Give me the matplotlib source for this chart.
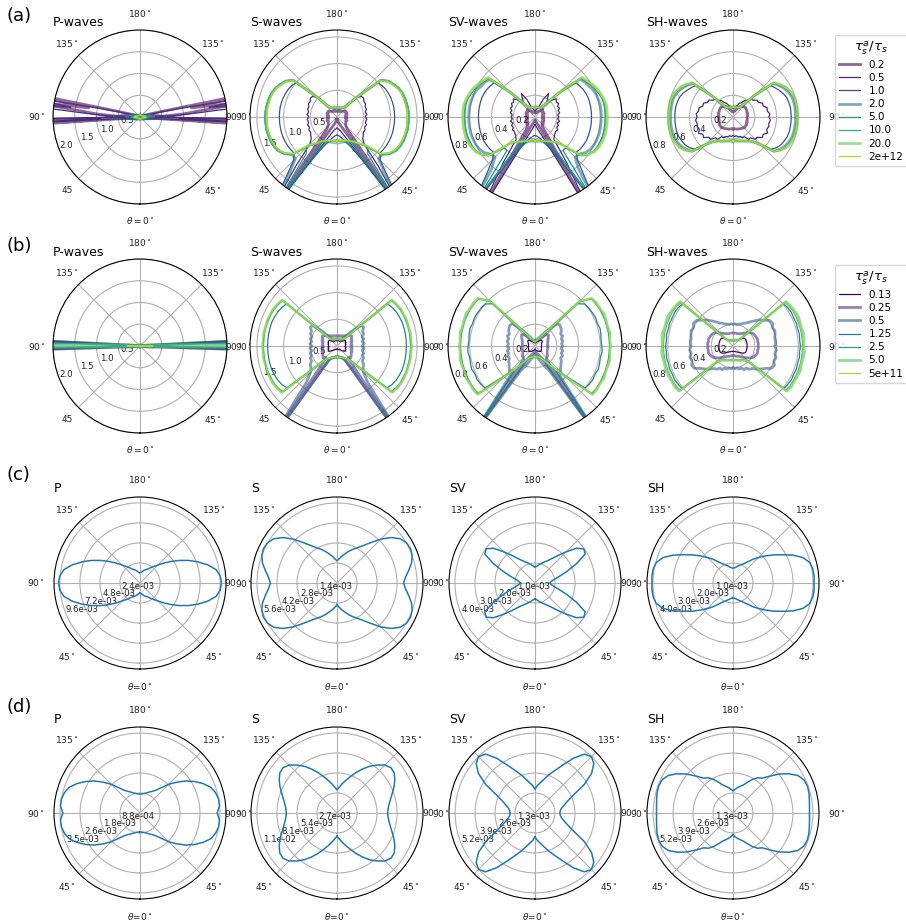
import numpy as np
import matplotlib.pyplot as plt

plt.rcParams['font.family'] = ['DejaVu Sans']
plt.rcParams['mathtext.fontset'] = 'dejavusans'

# sampling angles in degrees, measured from theta=0 (bottom) over the right half
th5 = list(range(0, 181, 5))
th_p = [0, 30, 60, 75, 80, 84, 86, 87, 88, 89, 90, 91, 92, 93, 94, 96, 98,
        100, 102, 104, 110, 130, 160, 180]
th_q = list(range(0, 91, 5))

ratios_a = ['0.2', '0.5', '1.0', '2.0', '5.0', '10.0', '20.0', '2e+12']
ratios_b = ['0.13', '0.25', '0.5', '1.25', '2.5', '5.0', '5e+11']
thick_a = [0, 3, 6]
thick_b = [1, 2, 5]

# ---------------- row (a) ----------------
a_P = [
    [0.03, 0.03, 0.04, 0.06, 0.10, 0.25, 3.0, 0.6, 3.0, 0.4, 0.25, 0.3, 0.5, 0.7, 1.0, 1.4, 3.0, 1.2, 3.0, 0.6, 0.15, 0.05, 0.03, 0.03],
    [0.02, 0.03, 0.04, 0.06, 0.12, 0.3, 0.8, 3.0, 0.9, 3.0, 0.35, 0.4, 0.7, 1.0, 1.3, 3.0, 1.6, 3.0, 1.0, 0.4, 0.12, 0.05, 0.03, 0.03],
    [0.06, 0.07, 0.12, 0.22, 0.3, 0.42, 0.5, 0.54, 0.58, 0.61, 0.62, 0.61, 0.58, 0.54, 0.5, 0.42, 0.35, 0.3, 0.26, 0.24, 0.17, 0.08, 0.065, 0.06],
    [0.04, 0.045, 0.07, 0.12, 0.16, 0.21, 0.24, 0.26, 0.28, 0.29, 0.3, 0.29, 0.28, 0.26, 0.24, 0.21, 0.18, 0.16, 0.14, 0.13, 0.095, 0.05, 0.042, 0.04],
    [0.04, 0.045, 0.065, 0.1, 0.12, 0.155, 0.17, 0.18, 0.19, 0.197, 0.2, 0.197, 0.19, 0.18, 0.17, 0.155, 0.135, 0.12, 0.11, 0.1, 0.08, 0.05, 0.042, 0.04],
    [0.04, 0.044, 0.06, 0.09, 0.105, 0.13, 0.14, 0.148, 0.153, 0.158, 0.16, 0.158, 0.153, 0.148, 0.14, 0.13, 0.115, 0.105, 0.095, 0.09, 0.07, 0.048, 0.042, 0.04],
    [0.04, 0.043, 0.058, 0.085, 0.1, 0.12, 0.128, 0.133, 0.137, 0.14, 0.142, 0.14, 0.137, 0.133, 0.128, 0.12, 0.108, 0.1, 0.092, 0.085, 0.068, 0.047, 0.041, 0.04],
    [0.04, 0.042, 0.055, 0.08, 0.092, 0.108, 0.114, 0.117, 0.12, 0.122, 0.123, 0.122, 0.12, 0.117, 0.114, 0.108, 0.098, 0.092, 0.085, 0.08, 0.065, 0.046, 0.041, 0.04],
]

a_S = [
    [0.04, 0.05, 0.07, 0.10, 0.14, 0.20, 0.35, 2.20, 0.30, 0.24,
     0.21, 0.20, 0.19, 0.18, 0.20, 0.17, 0.19, 0.16, 0.18, 0.16,
     0.19, 0.17, 0.20, 0.18, 0.20, 0.19, 0.17, 0.15, 0.14, 0.13,
     0.14, 0.12, 0.13, 0.11, 0.12, 0.11, 0.11],
    [0.21, 0.22, 0.24, 0.28, 0.35, 0.48, 0.80, 2.20, 1.20, 0.72,
     0.63, 0.60, 0.57, 0.58, 0.55, 0.57, 0.54, 0.56, 0.53, 0.56,
     0.54, 0.57, 0.56, 0.59, 0.58, 0.61, 0.60, 0.52, 0.30, 0.22,
     0.20, 0.19, 0.19, 0.18, 0.18, 0.175, 0.175],
    [0.34, 0.35, 0.38, 0.43, 0.50, 0.62, 0.90, 2.20, 1.50, 1.15,
     1.05, 1.06, 1.07, 1.075, 1.08, 1.08, 1.08, 1.08, 1.08, 1.08,
     1.08, 1.075, 1.07, 1.06, 1.05, 1.03, 1.00, 0.52, 0.28, 0.22,
     0.20, 0.19, 0.186, 0.18, 0.178, 0.176, 0.175],
    [0.45, 0.45, 0.46, 0.47, 0.50, 0.56, 0.75, 2.20, 1.40, 1.10,
     1.10, 1.20, 1.26, 1.29, 1.31, 1.32, 1.33, 1.33, 1.33, 1.33,
     1.32, 1.31, 1.30, 1.27, 1.22, 1.17, 1.07, 0.52, 0.28, 0.22,
     0.20, 0.19, 0.186, 0.18, 0.178, 0.176, 0.175],
    [0.45, 0.45, 0.455, 0.46, 0.47, 0.50, 0.56, 1.90, 0.90, 0.80,
     1.09, 1.20, 1.27, 1.31, 1.33, 1.34, 1.35, 1.35, 1.35, 1.35,
     1.34, 1.33, 1.31, 1.28, 1.23, 1.18, 1.08, 0.53, 0.29, 0.22,
     0.20, 0.19, 0.186, 0.18, 0.178, 0.176, 0.175],
    [0.45, 0.45, 0.455, 0.46, 0.47, 0.49, 0.52, 0.57, 0.66, 0.78,
     1.09, 1.21, 1.28, 1.31, 1.33, 1.34, 1.35, 1.35, 1.35, 1.35,
     1.34, 1.33, 1.31, 1.28, 1.23, 1.18, 1.08, 0.54, 0.29, 0.22,
     0.20, 0.19, 0.186, 0.18, 0.178, 0.176, 0.175],
    [0.45, 0.45, 0.455, 0.46, 0.47, 0.49, 0.52, 0.57, 0.65, 0.75,
     1.08, 1.19, 1.26, 1.29, 1.31, 1.32, 1.33, 1.33, 1.33, 1.33,
     1.32, 1.31, 1.30, 1.27, 1.22, 1.17, 1.07, 0.53, 0.28, 0.22,
     0.20, 0.19, 0.186, 0.18, 0.178, 0.176, 0.175],
    [0.45, 0.45, 0.455, 0.46, 0.47, 0.49, 0.52, 0.57, 0.65, 0.74,
     1.07, 1.18, 1.25, 1.28, 1.30, 1.31, 1.32, 1.32, 1.32, 1.32,
     1.31, 1.30, 1.29, 1.26, 1.21, 1.16, 1.06, 0.52, 0.28, 0.22,
     0.20, 0.19, 0.186, 0.18, 0.178, 0.176, 0.175],
]

a_SV = [
    [0.03, 0.035, 0.04, 0.05, 0.07, 0.12, 1.00, 0.15, 0.10, 0.09,
     0.10, 0.08, 0.09, 0.08, 0.09, 0.07, 0.08, 0.07, 0.08, 0.07,
     0.08, 0.07, 0.09, 0.08, 0.09, 0.08, 0.09, 0.10, 0.08, 0.07,
     0.06, 0.05, 0.05, 0.04, 0.04, 0.04, 0.04],
    [0.07, 0.08, 0.10, 0.13, 0.18, 0.30, 1.00, 0.50, 0.27, 0.25,
     0.24, 0.23, 0.24, 0.22, 0.23, 0.21, 0.23, 0.21, 0.22, 0.21,
     0.23, 0.22, 0.24, 0.23, 0.25, 0.24, 0.26, 0.22, 0.16, 0.20,
     0.25, 0.18, 0.10, 0.08, 0.07, 0.06, 0.06],
    [0.17, 0.175, 0.19, 0.21, 0.25, 0.31, 0.45, 1.00, 0.70, 0.55,
     0.50, 0.51, 0.515, 0.52, 0.52, 0.52, 0.52, 0.52, 0.52, 0.52,
     0.52, 0.52, 0.52, 0.515, 0.51, 0.50, 0.49, 0.32, 0.17, 0.115,
     0.10, 0.097, 0.095, 0.093, 0.091, 0.09, 0.09],
    [0.22, 0.22, 0.225, 0.23, 0.25, 0.28, 0.36, 1.00, 0.62, 0.52,
     0.53, 0.57, 0.59, 0.60, 0.605, 0.61, 0.61, 0.61, 0.61, 0.61,
     0.61, 0.605, 0.60, 0.59, 0.57, 0.56, 0.54, 0.32, 0.17, 0.115,
     0.10, 0.097, 0.095, 0.093, 0.091, 0.09, 0.09],
    [0.22, 0.22, 0.223, 0.228, 0.235, 0.25, 0.28, 0.90, 0.40, 0.40,
     0.55, 0.60, 0.625, 0.635, 0.64, 0.645, 0.645, 0.645, 0.645, 0.645,
     0.645, 0.64, 0.625, 0.61, 0.59, 0.57, 0.55, 0.32, 0.17, 0.115,
     0.10, 0.097, 0.095, 0.093, 0.091, 0.09, 0.09],
    [0.22, 0.22, 0.223, 0.228, 0.235, 0.245, 0.26, 0.28, 0.30, 0.37,
     0.55, 0.60, 0.63, 0.64, 0.65, 0.65, 0.65, 0.65, 0.65, 0.65,
     0.65, 0.645, 0.63, 0.615, 0.595, 0.575, 0.555, 0.32, 0.17, 0.115,
     0.10, 0.097, 0.095, 0.093, 0.091, 0.09, 0.09],
    [0.22, 0.22, 0.223, 0.228, 0.235, 0.245, 0.26, 0.28, 0.30, 0.37,
     0.55, 0.60, 0.635, 0.65, 0.66, 0.665, 0.665, 0.665, 0.665, 0.665,
     0.665, 0.655, 0.64, 0.625, 0.605, 0.585, 0.565, 0.32, 0.17, 0.115,
     0.10, 0.097, 0.095, 0.093, 0.091, 0.09, 0.09],
    [0.22, 0.22, 0.223, 0.228, 0.235, 0.245, 0.26, 0.28, 0.30, 0.37,
     0.55, 0.60, 0.63, 0.645, 0.655, 0.66, 0.66, 0.66, 0.66, 0.66,
     0.66, 0.65, 0.635, 0.62, 0.60, 0.58, 0.56, 0.32, 0.17, 0.115,
     0.10, 0.097, 0.095, 0.093, 0.091, 0.09, 0.09],
]

a_SH = [
    [0.11, 0.11, 0.11, 0.115, 0.12, 0.12, 0.125, 0.13, 0.135, 0.14,
     0.145, 0.14, 0.145, 0.135, 0.14, 0.13, 0.135, 0.13, 0.13, 0.135,
     0.13, 0.14, 0.135, 0.14, 0.14, 0.145, 0.14, 0.135, 0.13, 0.12,
     0.10, 0.08, 0.065, 0.055, 0.05, 0.048, 0.046],
    [0.17, 0.18, 0.175, 0.19, 0.19, 0.21, 0.21, 0.25, 0.25, 0.29,
     0.29, 0.33, 0.32, 0.35, 0.33, 0.34, 0.335, 0.345, 0.33, 0.34,
     0.32, 0.325, 0.295, 0.30, 0.27, 0.27, 0.24, 0.235, 0.195, 0.185,
     0.15, 0.14, 0.11, 0.105, 0.085, 0.09, 0.08],
    [0.22, 0.22, 0.223, 0.228, 0.235, 0.245, 0.255, 0.27, 0.30, 0.36,
     0.46, 0.49, 0.51, 0.52, 0.53, 0.535, 0.535, 0.535, 0.535, 0.535,
     0.535, 0.53, 0.525, 0.51, 0.49, 0.47, 0.45, 0.28, 0.15, 0.11,
     0.10, 0.097, 0.095, 0.093, 0.092, 0.092, 0.092],
    [0.22, 0.22, 0.223, 0.228, 0.235, 0.245, 0.255, 0.27, 0.30, 0.36,
     0.49, 0.52, 0.545, 0.56, 0.57, 0.575, 0.575, 0.575, 0.575, 0.575,
     0.575, 0.575, 0.57, 0.555, 0.535, 0.51, 0.48, 0.28, 0.15, 0.11,
     0.10, 0.097, 0.095, 0.093, 0.092, 0.092, 0.092],
    [0.22, 0.22, 0.223, 0.228, 0.235, 0.245, 0.255, 0.27, 0.30, 0.36,
     0.49, 0.53, 0.555, 0.57, 0.58, 0.585, 0.585, 0.585, 0.585, 0.585,
     0.585, 0.585, 0.58, 0.565, 0.545, 0.515, 0.485, 0.28, 0.15, 0.11,
     0.10, 0.097, 0.095, 0.093, 0.092, 0.092, 0.092],
    [0.22, 0.22, 0.223, 0.228, 0.235, 0.245, 0.255, 0.27, 0.30, 0.36,
     0.49, 0.53, 0.56, 0.575, 0.585, 0.59, 0.59, 0.59, 0.59, 0.59,
     0.59, 0.59, 0.585, 0.57, 0.55, 0.52, 0.49, 0.28, 0.15, 0.11,
     0.10, 0.097, 0.095, 0.093, 0.092, 0.092, 0.092],
    [0.22, 0.22, 0.223, 0.228, 0.235, 0.245, 0.255, 0.27, 0.30, 0.36,
     0.49, 0.535, 0.565, 0.58, 0.59, 0.595, 0.595, 0.595, 0.595, 0.595,
     0.595, 0.595, 0.59, 0.575, 0.555, 0.525, 0.49, 0.28, 0.15, 0.11,
     0.10, 0.097, 0.095, 0.093, 0.092, 0.092, 0.092],
    [0.22, 0.22, 0.223, 0.228, 0.235, 0.245, 0.255, 0.27, 0.30, 0.36,
     0.49, 0.53, 0.56, 0.575, 0.585, 0.59, 0.59, 0.59, 0.59, 0.59,
     0.59, 0.59, 0.585, 0.57, 0.55, 0.52, 0.49, 0.28, 0.15, 0.11,
     0.10, 0.097, 0.095, 0.093, 0.092, 0.092, 0.092],
]

# ---------------- row (b) ----------------
b_P = [
    [0.02, 0.02, 0.03, 0.05, 0.09, 0.2, 0.4, 0.5, 3.0, 3.0, 3.0, 3.0, 3.0, 3.0, 0.5, 0.2, 0.12, 0.09, 0.07, 0.06, 0.04, 0.03, 0.02, 0.02],
    [0.02, 0.02, 0.03, 0.05, 0.08, 0.18, 0.35, 0.4, 2.5, 3.0, 3.0, 3.0, 3.0, 2.5, 0.4, 0.18, 0.11, 0.08, 0.06, 0.05, 0.04, 0.03, 0.02, 0.02],
    [0.02, 0.02, 0.03, 0.05, 0.08, 0.16, 0.3, 0.35, 1.8, 3.0, 3.0, 3.0, 3.0, 1.8, 0.35, 0.16, 0.1, 0.08, 0.06, 0.05, 0.04, 0.03, 0.02, 0.02],
    [0.02, 0.02, 0.03, 0.04, 0.07, 0.14, 0.25, 0.3, 1.0, 3.0, 3.0, 3.0, 2.5, 1.0, 0.3, 0.14, 0.09, 0.07, 0.05, 0.045, 0.035, 0.025, 0.02, 0.02],
    [0.02, 0.02, 0.03, 0.04, 0.06, 0.1, 0.18, 0.25, 0.6, 2.5, 3.0, 2.5, 1.5, 0.6, 0.25, 0.1, 0.07, 0.06, 0.05, 0.04, 0.03, 0.025, 0.02, 0.02],
    [0.02, 0.02, 0.025, 0.035, 0.05, 0.08, 0.13, 0.18, 0.4, 1.5, 2.5, 1.5, 0.8, 0.4, 0.18, 0.08, 0.06, 0.05, 0.04, 0.035, 0.03, 0.022, 0.02, 0.02],
    [0.01, 0.01, 0.015, 0.025, 0.035, 0.06, 0.09, 0.12, 0.15, 0.25, 0.3, 0.25, 0.15, 0.1, 0.08, 0.06, 0.045, 0.035, 0.03, 0.025, 0.02, 0.015, 0.01, 0.01],
]

b_S = [
    [0.06, 0.06, 0.065, 0.065, 0.07, 0.075, 0.08, 0.09, 0.10, 0.12,
     0.14, 0.17, 0.19, 0.17, 0.18, 0.16, 0.17, 0.15, 0.165, 0.155,
     0.17, 0.16, 0.18, 0.17, 0.19, 0.18, 0.15, 0.13, 0.12, 0.11,
     0.10, 0.10, 0.10, 0.10, 0.10, 0.10, 0.10],
    [0.21, 0.21, 0.215, 0.22, 0.23, 0.24, 0.30, 2.20, 0.40, 0.30,
     0.34, 0.32, 0.31, 0.29, 0.30, 0.27, 0.29, 0.26, 0.28, 0.26,
     0.28, 0.27, 0.30, 0.29, 0.32, 0.33, 0.30, 0.27, 0.25, 0.23,
     0.22, 0.21, 0.20, 0.20, 0.195, 0.19, 0.19],
    [0.20, 0.20, 0.21, 0.22, 0.24, 0.26, 0.30, 2.20, 0.90, 0.70,
     0.64, 0.61, 0.55, 0.55, 0.51, 0.52, 0.48, 0.51, 0.47, 0.51,
     0.48, 0.52, 0.50, 0.55, 0.55, 0.61, 0.60, 0.40, 0.22, 0.17,
     0.15, 0.145, 0.14, 0.135, 0.133, 0.13, 0.13],
    [0.21, 0.21, 0.215, 0.22, 0.23, 0.24, 0.26, 0.29, 0.33, 0.53,
     1.22, 1.26, 1.28, 1.29, 1.30, 1.30, 1.30, 1.30, 1.30, 1.30,
     1.30, 1.30, 1.30, 1.29, 1.28, 1.26, 1.23, 0.20, 0.17, 0.16,
     0.15, 0.145, 0.14, 0.135, 0.133, 0.13, 0.13],
    [0.21, 0.21, 0.215, 0.22, 0.23, 0.24, 0.26, 0.29, 0.32, 0.52,
     1.33, 1.36, 1.37, 1.375, 1.38, 1.38, 1.38, 1.38, 1.38, 1.38,
     1.38, 1.38, 1.375, 1.375, 1.37, 1.35, 1.33, 0.20, 0.17, 0.16,
     0.15, 0.145, 0.14, 0.135, 0.133, 0.13, 0.13],
    [0.21, 0.21, 0.215, 0.22, 0.23, 0.24, 0.26, 0.29, 0.32, 0.52,
     1.35, 1.375, 1.39, 1.385, 1.395, 1.385, 1.395, 1.39, 1.395, 1.385,
     1.395, 1.385, 1.39, 1.38, 1.38, 1.36, 1.34, 0.20, 0.17, 0.16,
     0.15, 0.145, 0.14, 0.135, 0.133, 0.13, 0.13],
    [0.21, 0.21, 0.215, 0.22, 0.23, 0.24, 0.26, 0.29, 0.32, 0.52,
     1.35, 1.37, 1.38, 1.39, 1.385, 1.39, 1.395, 1.39, 1.39, 1.395,
     1.39, 1.385, 1.39, 1.385, 1.38, 1.36, 1.34, 0.20, 0.17, 0.16,
     0.15, 0.145, 0.14, 0.135, 0.133, 0.13, 0.13],
]

b_SV = [
    [0.03, 0.03, 0.035, 0.04, 0.045, 0.05, 0.055, 0.06, 0.065, 0.07,
     0.075, 0.07, 0.068, 0.065, 0.063, 0.062, 0.06, 0.06, 0.06, 0.06,
     0.06, 0.062, 0.065, 0.07, 0.075, 0.08, 0.08, 0.075, 0.065, 0.055,
     0.045, 0.04, 0.035, 0.03, 0.03, 0.03, 0.03],
    [0.05, 0.055, 0.06, 0.07, 0.08, 0.10, 0.13, 1.00, 0.16, 0.15,
     0.15, 0.14, 0.13, 0.125, 0.12, 0.12, 0.12, 0.115, 0.12, 0.115,
     0.12, 0.12, 0.125, 0.13, 0.14, 0.15, 0.16, 0.15, 0.12, 0.09,
     0.07, 0.06, 0.055, 0.05, 0.05, 0.05, 0.05],
    [0.08, 0.09, 0.10, 0.12, 0.15, 0.20, 0.26, 1.00, 0.35, 0.33,
     0.31, 0.29, 0.28, 0.26, 0.27, 0.25, 0.26, 0.24, 0.255, 0.245,
     0.26, 0.25, 0.27, 0.26, 0.28, 0.29, 0.30, 0.29, 0.20, 0.14,
     0.10, 0.08, 0.065, 0.055, 0.05, 0.045, 0.045],
    [0.10, 0.10, 0.102, 0.105, 0.11, 0.12, 0.14, 1.00, 0.30, 0.38,
     0.60, 0.61, 0.615, 0.61, 0.62, 0.615, 0.61, 0.62, 0.615, 0.61,
     0.615, 0.62, 0.61, 0.615, 0.61, 0.605, 0.60, 0.55, 0.21, 0.13,
     0.09, 0.075, 0.06, 0.05, 0.045, 0.042, 0.04],
    [0.10, 0.10, 0.102, 0.105, 0.11, 0.12, 0.14, 0.18, 0.26, 0.40,
     0.68, 0.685, 0.685, 0.685, 0.685, 0.685, 0.685, 0.685, 0.685, 0.685,
     0.685, 0.685, 0.685, 0.685, 0.685, 0.68, 0.675, 0.58, 0.21, 0.13,
     0.09, 0.075, 0.06, 0.05, 0.045, 0.042, 0.04],
    [0.10, 0.10, 0.102, 0.105, 0.11, 0.12, 0.14, 0.18, 0.26, 0.40,
     0.69, 0.695, 0.69, 0.70, 0.69, 0.695, 0.70, 0.69, 0.695, 0.69,
     0.70, 0.69, 0.695, 0.70, 0.69, 0.69, 0.68, 0.58, 0.21, 0.13,
     0.09, 0.075, 0.06, 0.05, 0.045, 0.042, 0.04],
    [0.10, 0.10, 0.102, 0.105, 0.11, 0.12, 0.14, 0.18, 0.26, 0.40,
     0.69, 0.69, 0.69, 0.695, 0.69, 0.69, 0.695, 0.69, 0.69, 0.69,
     0.695, 0.69, 0.69, 0.695, 0.69, 0.685, 0.68, 0.58, 0.21, 0.13,
     0.09, 0.075, 0.06, 0.05, 0.045, 0.042, 0.04],
]

b_SH = [
    [0.05, 0.05, 0.051, 0.052, 0.055, 0.058, 0.062, 0.068, 0.075, 0.085,
     0.10, 0.115, 0.125, 0.13, 0.13, 0.13, 0.13, 0.13, 0.13, 0.13,
     0.13, 0.13, 0.13, 0.13, 0.13, 0.125, 0.11, 0.09, 0.075, 0.065,
     0.06, 0.055, 0.052, 0.05, 0.05, 0.05, 0.05],
    [0.09, 0.09, 0.092, 0.095, 0.10, 0.105, 0.11, 0.12, 0.135, 0.15,
     0.17, 0.19, 0.21, 0.22, 0.23, 0.235, 0.23, 0.235, 0.23, 0.235,
     0.23, 0.235, 0.23, 0.225, 0.22, 0.21, 0.19, 0.17, 0.155, 0.14,
     0.13, 0.125, 0.12, 0.12, 0.12, 0.12, 0.12],
    [0.20, 0.21, 0.205, 0.22, 0.215, 0.24, 0.235, 0.26, 0.27, 0.30,
     0.33, 0.36, 0.41, 0.42, 0.40, 0.41, 0.39, 0.40, 0.385, 0.395,
     0.39, 0.40, 0.41, 0.40, 0.42, 0.41, 0.37, 0.34, 0.30, 0.27,
     0.245, 0.23, 0.215, 0.21, 0.20, 0.205, 0.20],
    [0.13, 0.13, 0.132, 0.135, 0.14, 0.145, 0.153, 0.16, 0.173, 0.20,
     0.61, 0.615, 0.62, 0.615, 0.62, 0.615, 0.62, 0.615, 0.62, 0.615,
     0.62, 0.615, 0.62, 0.615, 0.62, 0.615, 0.605, 0.078, 0.072, 0.067,
     0.063, 0.06, 0.058, 0.057, 0.056, 0.055, 0.055],
    [0.13, 0.13, 0.132, 0.135, 0.14, 0.145, 0.153, 0.16, 0.173, 0.20,
     0.635, 0.64, 0.64, 0.64, 0.64, 0.64, 0.64, 0.64, 0.64, 0.64,
     0.64, 0.64, 0.64, 0.64, 0.64, 0.635, 0.625, 0.078, 0.072, 0.067,
     0.063, 0.06, 0.058, 0.057, 0.056, 0.055, 0.055],
    [0.13, 0.13, 0.132, 0.135, 0.14, 0.145, 0.153, 0.16, 0.173, 0.20,
     0.645, 0.655, 0.65, 0.655, 0.66, 0.65, 0.655, 0.66, 0.65, 0.655,
     0.66, 0.65, 0.655, 0.66, 0.65, 0.645, 0.635, 0.078, 0.072, 0.067,
     0.063, 0.06, 0.058, 0.057, 0.056, 0.055, 0.055],
    [0.13, 0.13, 0.132, 0.135, 0.14, 0.145, 0.153, 0.16, 0.173, 0.20,
     0.64, 0.645, 0.645, 0.645, 0.645, 0.645, 0.645, 0.645, 0.645, 0.645,
     0.645, 0.645, 0.645, 0.645, 0.645, 0.64, 0.63, 0.078, 0.072, 0.067,
     0.063, 0.06, 0.058, 0.057, 0.056, 0.055, 0.055],
]

# ---------------- rows (c), (d): radius in units of 1e-3, 0..90 deg ----------------
c_P = [1.2, 1.25, 1.35, 1.5, 1.65, 1.8, 1.95, 2.25, 2.6, 3.05, 3.7, 4.5, 5.4, 6.4, 7.4, 8.4, 9.25, 9.65, 9.75]
c_S = [1.55, 1.7, 1.9, 2.1, 2.35, 2.6, 2.85, 3.2, 3.7, 4.35, 4.95, 5.4, 5.62, 5.68, 5.6, 5.4, 5.1, 4.82, 4.66]
c_SV = [0.79, 0.83, 0.9, 0.98, 1.07, 1.17, 1.3, 1.5, 1.8, 2.2, 2.7, 2.98, 2.9, 2.3, 1.7, 1.25, 0.95, 0.8, 0.74]
c_SH = [0.74, 0.76, 0.8, 0.86, 0.93, 1.02, 1.13, 1.3, 1.55, 1.8, 2.1, 2.45, 2.83, 3.3, 3.72, 3.97, 4.05, 4.07, 4.05]
d_P = [0.83, 0.84, 0.86, 0.9, 0.95, 1.02, 1.1, 1.22, 1.45, 1.78, 2.1, 2.45, 2.76, 3.05, 3.3, 3.43, 3.5, 3.5, 3.38]
d_S = [3.12, 3.5, 4.0, 4.55, 5.2, 6.0, 6.85, 7.7, 8.45, 9.15, 9.5, 9.42, 9.0, 8.5, 7.95, 7.5, 7.15, 6.92, 6.83]
d_SV = [1.55, 1.8, 2.0, 2.28, 2.65, 3.05, 3.6, 4.35, 5.0, 5.2, 5.0, 4.5, 3.7, 2.75, 2.25, 1.95, 1.75, 1.65, 1.62]
d_SH = [1.44, 1.55, 1.68, 1.8, 1.94, 2.2, 2.52, 2.8, 2.96, 3.4, 3.95, 4.45, 4.88, 5.1, 5.15, 5.12, 5.05, 5.0, 4.98]

c_ticks = [[2.4e-3, 4.8e-3, 7.2e-3, 9.6e-3], [1.4e-3, 2.8e-3, 4.2e-3, 5.6e-3],
           [1.0e-3, 2.0e-3, 3.0e-3, 4.0e-3], [1.0e-3, 2.0e-3, 3.0e-3, 4.0e-3]]
d_ticks = [[0.876e-3, 1.752e-3, 2.628e-3, 3.504e-3], [2.7e-3, 5.4e-3, 8.1e-3, 10.8e-3],
           [1.3e-3, 2.6e-3, 3.9e-3, 5.2e-3], [1.3e-3, 2.6e-3, 3.9e-3, 5.2e-3]]
c_rmax = [10.3e-3, 6.02e-3, 4.3e-3, 4.3e-3]
d_rmax = [3.77e-3, 11.6e-3, 5.6e-3, 5.6e-3]

ab_ticks = [[0.5, 1.0, 1.5, 2.0], [0.5, 1.0, 1.5], [0.2, 0.4, 0.6, 0.8], [0.2, 0.4, 0.6, 0.8]]
ab_rmax = [2.0, 1.63, 0.8, 0.8]

titles_ab = ['P-waves', 'S-waves', 'SV-waves', 'SH-waves']
titles_cd = ['P', 'S', 'SV', 'SH']
theta_lab_ab = [r'$\theta = 0^\circ$', r'$45^\circ$', r'$90^\circ$', r'$135^\circ$',
                r'$180^\circ$', r'$135^\circ$', r'$90^\circ$', '45']
theta_lab_cd = [r'$\theta$=0$^\circ$', r'45$^\circ$', r'90$^\circ$', r'135$^\circ$',
                r'180$^\circ$', r'135$^\circ$', r'90$^\circ$', r'45$^\circ$']


def mirror(th_deg, r):
    th = np.asarray(th_deg, dtype=float)
    r = np.asarray(r, dtype=float)
    th_full = np.concatenate([th, 360 - th[::-1]])
    r_full = np.concatenate([r, r[::-1]])
    return np.deg2rad(th_full), r_full


def mirror_quarter(r_q):
    r_q = np.asarray(r_q, dtype=float)
    r_half = np.concatenate([r_q, r_q[-2::-1]])
    th_half = np.concatenate([th_q, 180 - np.asarray(th_q[-2::-1])])
    return mirror(th_half, r_half)


W, H = 906, 921
fig = plt.figure(figsize=(W / 100, H / 100), dpi=100)

col_x = [140, 337, 535, 733]
row_y = [117, 346, 583, 813]
row_R = [87, 87, 86, 86]
title_base = [26.5, 256.5, 492, 723]
letter_base = [21, 251, 480, 712]


def make_ax(row, col, rmax, ticks, labels, theta_labels, pad):
    R = row_R[row]
    cx, cy = col_x[col], row_y[row]
    ax = fig.add_axes([(cx - R) / W, 1 - (cy + R) / H, 2 * R / W, 2 * R / H],
                      projection='polar')
    ax.set_theta_zero_location('S')
    ax.set_ylim(0, rmax)
    ax.set_rgrids(ticks, labels)
    ax.set_rlabel_position(292.5)
    ax.set_thetagrids([0, 45, 90, 135, 180, 225, 270, 315], theta_labels)
    ax.tick_params(axis='x', pad=pad, labelsize=6.5, colors='#222222')
    ax.tick_params(axis='y', labelsize=6.2, colors='#222222')
    return ax


rows_ab = [(a_P, a_S, a_SV, a_SH), (b_P, b_S, b_SV, b_SH)]
legend_info = [(ratios_a, thick_a, 35), (ratios_b, thick_b, 265)]

for row in range(2):
    ratios, thick, leg_top = legend_info[row]
    n = len(ratios)
    handles = []
    for col in range(4):
        ticks = ab_ticks[col]
        ax = make_ax(row, col, ab_rmax[col], ticks, ['%.1f' % t for t in ticks],
                     theta_lab_ab, 1.3)
        th_grid = th_p if col == 0 else th5
        lines = []
        for i, r in enumerate(rows_ab[row][col]):
            th, rr = mirror(th_grid, r)
            if i in thick:
                ln, = ax.plot(th, rr, color=plt.cm.viridis(i / n), lw=2.0, alpha=0.6)
            else:
                ln, = ax.plot(th, rr, color=plt.cm.viridis(i / n), lw=0.9)
            lines.append(ln)
        handles = lines
        fig.text((col_x[col] - row_R[row]) / W, 1 - title_base[row] / H,
                 titles_ab[col], fontsize=9, va='baseline', ha='left')
    fig.legend(handles, ratios, title=r'$\tau_s^a/\tau_s$', loc='upper left',
               bbox_to_anchor=(835 / W, 1 - leg_top / H), borderaxespad=0,
               fontsize=7.5, title_fontsize=9.5, labelspacing=0.3,
               handlelength=2.0)

rows_cd = [((c_P, c_S, c_SV, c_SH), c_ticks, c_rmax), ((d_P, d_S, d_SV, d_SH), d_ticks, d_rmax)]
for k, (curves, ticks_all, rmax_all) in enumerate(rows_cd):
    row = k + 2
    for col in range(4):
        ticks = ticks_all[col]
        ax = make_ax(row, col, rmax_all[col], ticks, ['%.1e' % t for t in ticks],
                     theta_lab_cd, 2.4)
        th, rr = mirror_quarter(curves[col])
        ax.plot(th, rr * 1e-3, color='#1f77b4', lw=1.1)
        fig.text((col_x[col] - row_R[row]) / W, 1 - title_base[row] / H,
                 titles_cd[col], fontsize=9, va='baseline', ha='left')

for row, letter in enumerate(['(a)', '(b)', '(c)', '(d)']):
    fig.text(7 / W, 1 - letter_base[row] / H, letter, fontsize=13, va='baseline')

fig.savefig('out.png', dpi=100)
